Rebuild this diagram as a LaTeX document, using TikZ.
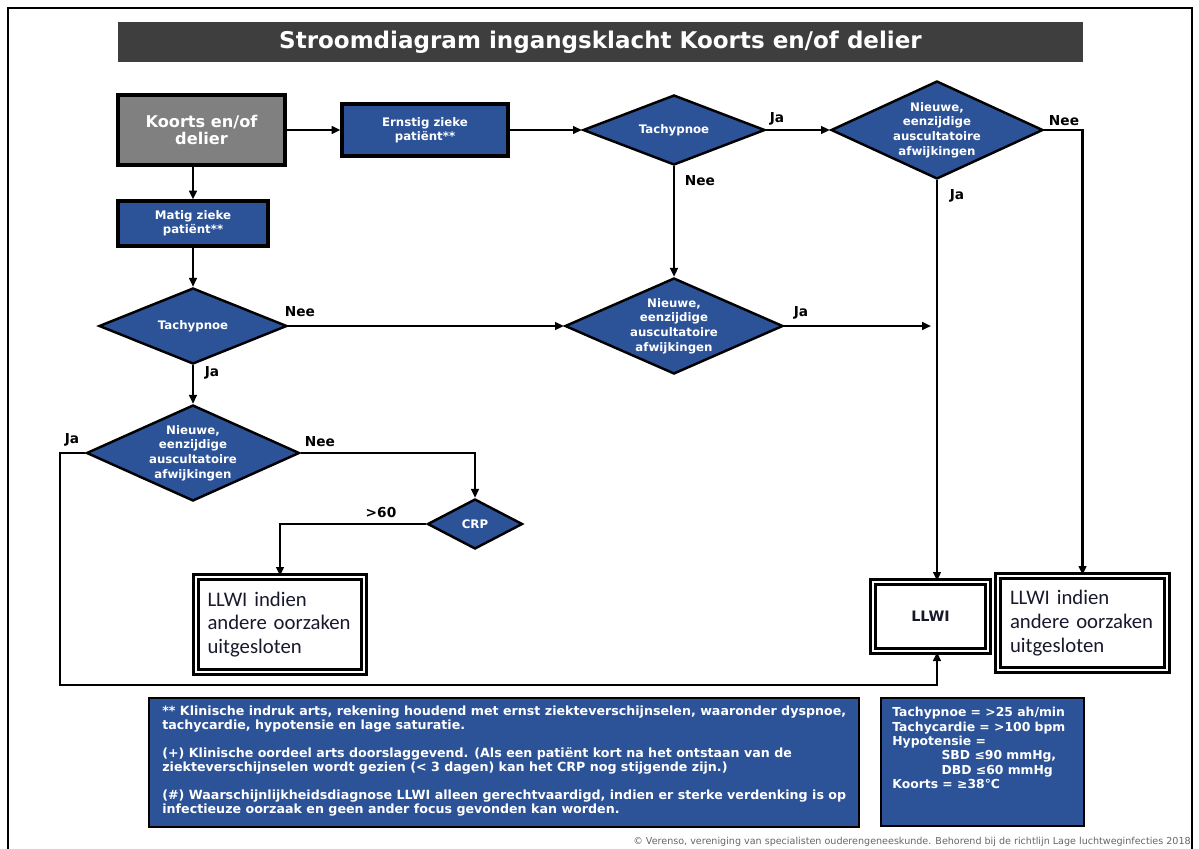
\documentclass[tikz,border=0pt]{standalone}
\usepackage{fontspec}
\setmainfont{DejaVu Sans}
\newfontfamily\calibri{Carlito}
\usetikzlibrary{shapes.geometric,arrows.meta}
\definecolor{zblue}{RGB}{44,82,152}
\definecolor{titlegray}{RGB}{62,62,62}
\definecolor{startgray}{RGB}{128,128,128}
\definecolor{zink}{RGB}{25,25,45}
\newcommand{\fsz}[2]{\fontsize{#1}{#2}\selectfont}
\begin{document}
\begin{tikzpicture}[x=0.02cm,y=-0.02cm,
    box/.style={draw, line width=1.9pt, fill=zblue, text=white, align=center, inner sep=0pt, font=\bfseries\fsz{6.7}{8}},
    dec/.style={diamond, aspect=2.2, draw, line width=1.4pt, fill=zblue, text=white, align=center, inner sep=0pt, font=\bfseries\fsz{6.7}{8.3}},
    uit/.style={draw, line width=1.4pt, double=white, double distance=1.3pt, fill=white, inner sep=0pt, text=zink, font=\calibri\fsz{11.8}{13.6}},
    lbl/.style={inner sep=0pt, font=\bfseries\fsz{7.8}{9}},
    arr/.style={line width=1.4pt, -{Triangle[length=5pt,width=4.4pt]}},
    note/.style={draw, line width=1.5pt, fill=zblue},
    notetxt/.style={anchor=north west, inner sep=0pt, align=left, text=white, font=\bfseries\fsz{7.2}{7.9}}]
    \useasboundingbox[fill=white] (0,0) rectangle (1199,848);
    % kader
    \draw[line width=1.2pt] (8,850) |- (1192,8) -- (1192,850);
    % titel
    \node[fill=titlegray, minimum width=19.3cm, minimum height=0.8cm, text=white, font=\bfseries\fsz{13.1}{15}] (titel) at (600.5,42) {Stroomdiagram ingangsklacht Koorts en/of delier};
    % start en ernst
    \node[box, fill=startgray, minimum width=3.34cm, minimum height=1.4cm, font=\bfseries\fsz{9.2}{10.2}] (koorts) at (201.5,130) {Koorts en/of\\delier};
    \node[box, minimum width=3.32cm, minimum height=1.04cm] (ernstig) at (425,130) {Ernstig zieke\\patiënt**};
    \node[box, minimum width=3cm, minimum height=0.9cm] (matig) at (193,223.5) {Matig zieke\\patiënt**};
    % beslissingen
    \node[dec, minimum width=3.64cm, minimum height=1.4cm] (tachA) at (674,130) {Tachypnoe};
    \node[dec, minimum width=4.24cm, minimum height=1.96cm] (nieuwA) at (937,130) {Nieuwe,\\eenzijdige\\auscultatoire\\afwijkingen};
    \node[dec, minimum width=3.76cm, minimum height=1.52cm] (tachB) at (193,326) {Tachypnoe};
    \node[dec, minimum width=4.36cm, minimum height=1.92cm] (nieuwB) at (674,326) {Nieuwe,\\eenzijdige\\auscultatoire\\afwijkingen};
    \node[dec, minimum width=4.26cm, minimum height=1.92cm] (nieuwC) at (193,453) {Nieuwe,\\eenzijdige\\auscultatoire\\afwijkingen};
    \node[dec, minimum width=1.9cm, minimum height=1cm] (crp) at (475,524) {CRP};
    % uitkomsten
    \node[uit, minimum width=3.36cm, minimum height=1.9cm, text width=2.9cm, align=left] (llwiL) at (280,624.5) {LLWI indien\\andere oorzaken\\uitgesloten};
    \node[uit, minimum width=2.3cm, minimum height=1.38cm, font=\bfseries\fsz{8.2}{10}] (llwi) at (930.5,616.5) {LLWI};
    \node[uit, minimum width=3.38cm, minimum height=1.88cm, text width=2.9cm, align=left] (llwiR) at (1082.5,623) {LLWI indien\\andere oorzaken\\uitgesloten};
    % labels
    \node[lbl] (jaA) at (777,119) {Ja};
    \node[lbl] (neeA) at (700,181) {Nee};
    \node[lbl] (neeB) at (1064,121) {Nee};
    \node[lbl] (jaB) at (957,196) {Ja};
    \node[lbl] (neeC) at (300,312) {Nee};
    \node[lbl] (jaC) at (212,373) {Ja};
    \node[lbl] (jaD) at (801,313) {Ja};
    \node[lbl] (neeD) at (320,442) {Nee};
    \node[lbl] (jaE) at (72,440) {Ja};
    \node[lbl] (zestig) at (381,513) {>60};
    % pijlen
    \draw[arr] (koorts) -- (ernstig);
    \draw[arr] (koorts.south -| matig) -- (matig);
    \draw[arr] (ernstig) -- (tachA);
    \draw[arr] (tachA) -- (nieuwA);
    \draw[arr] (tachA) -- (nieuwB);
    \draw[arr] (nieuwA.east) -| (llwiR);
    \draw[arr] (nieuwA) -- (nieuwA.south |- llwi.north);
    \draw[arr] (matig) -- (tachB);
    \draw[arr] (tachB) -- (nieuwB);
    \coordinate (jaEind) at (931,326);
    \draw[arr] (nieuwB) -- (jaEind);
    \draw[arr] (tachB) -- (nieuwC);
    \draw[arr] (nieuwC.east) -| (crp);
    \draw[arr] (crp.west) -| (llwiL);
    \coordinate (hoek) at (60,685);
    \draw[arr] (nieuwC.west) -| (hoek) -| (nieuwA.south |- llwi.south);
    % voetnoten
    \node[note, minimum width=14.2cm, minimum height=2.58cm] (noot) at (504,762.5) {};
    \node[notetxt] (noottekst) at (162,706) {** Klinische indruk arts, rekening houdend met ernst ziekteverschijnselen, waaronder dyspnoe,\\tachycardie, hypotensie en lage saturatie.\\[8pt](+) Klinische oordeel arts doorslaggevend. (Als een patiënt kort na het ontstaan van de\\ziekteverschijnselen wordt gezien (< 3 dagen) kan het CRP nog stijgende zijn.)\\[8pt](\#) Waarschijnlijkheidsdiagnose LLWI alleen gerechtvaardigd, indien er sterke verdenking is op\\infectieuze oorzaak en geen ander focus gevonden kan worden.};
    \node[note, minimum width=4.06cm, minimum height=2.56cm] (def) at (982.5,762) {};
    \node[notetxt, font=\bfseries\fsz{7.05}{8.2}] (deftekst) at (892,707) {Tachypnoe = >25 ah/min\\Tachycardie = >100 bpm\\Hypotensie =\\\hspace*{28pt}SBD ≤90 mmHg,\\\hspace*{28pt}DBD ≤60 mmHg\\Koorts = ≥38°C};
    \node[anchor=east, inner sep=0pt, text=black!60, font=\fsz{5.45}{7}] (bron) at (1191,842) {© Verenso, vereniging van specialisten ouderengeneeskunde. Behorend bij de richtlijn Lage luchtweginfecties 2018};
\end{tikzpicture}
\end{document}
